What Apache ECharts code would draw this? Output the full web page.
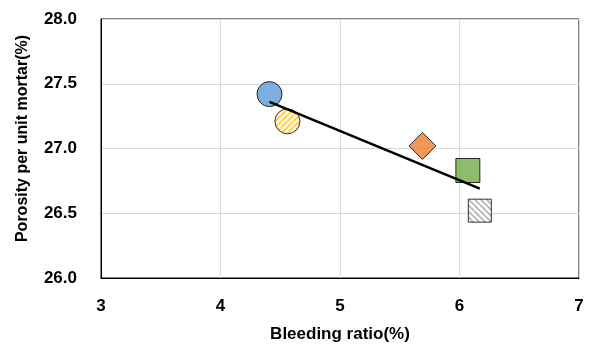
<!DOCTYPE html>
<html>
<head>
<meta charset="utf-8">
<script src="https://cdn.jsdelivr.net/npm/echarts@6/dist/echarts.min.js"></script>
<style>
  html, body { margin: 0; padding: 0; background: #fff; }
  #chart { width: 598px; height: 348px; }
</style>
</head>
<body>
<div id="chart"></div>
<script>
// data
let bleeding = [4.41, 4.56, 5.69, 6.07, 6.17];
let porosity = [27.42, 27.21, 27.02, 26.83, 26.52];
let trendX = [4.41, 6.17];
let trendY = [27.36, 26.69];
let xTicks = [3, 4, 5, 6, 7];
let yTicks = [26.0, 26.5, 27.0, 27.5, 28.0];

// hatched fill like the excel pattern. symbols are drawn at unit size
// and scaled, so the pattern is scaled back by 2/size
function stripes(fg, bg, dir, lw, size) {
    let n = 6;
    let c = document.createElement('canvas');
    c.width = n; c.height = n;
    let ctx = c.getContext('2d');
    ctx.fillStyle = bg;
    ctx.fillRect(0, 0, n, n);
    ctx.strokeStyle = fg;
    ctx.lineWidth = lw;
    ctx.beginPath();
    for (let k = -n; k <= n * 2; k += n) {
        if (dir > 0) {
            ctx.moveTo(k - n, n); ctx.lineTo(k, 0);
        } else {
            ctx.moveTo(k, 0); ctx.lineTo(k + n, n);
        }
    }
    ctx.stroke();
    let s = 2 / size;
    return { image: c, repeat: 'repeat', scaleX: s, scaleY: s };
}

let markers = [
    { symbol: 'circle', size: 25, color: '#5b9bd5' },
    { symbol: 'circle', size: 25, color: stripes('#ffc000', '#ffffff', 1, 2, 25) },
    { symbol: 'diamond', size: 27, color: '#ed7d31' },
    { symbol: 'rect', size: 24, color: '#70ad47' },
    { symbol: 'rect', size: 23, color: stripes('#6f6f6f', '#ffffff', -1, 1.2, 23) }
];

let font = '"Liberation Sans", Arial, sans-serif';

let pts = bleeding.map((x, i) => ({
    value: [x, porosity[i]],
    symbol: markers[i].symbol,
    symbolSize: markers[i].size,
    itemStyle: { color: markers[i].color, borderColor: '#000', borderWidth: 1 }
}));

let chart = echarts.init(document.getElementById('chart'), null, { renderer: 'canvas' });
let option = {
    animation: false,
    backgroundColor: '#fff',
    grid: {
        left: 101, right: 19, top: 19, bottom: 68,
        show: true, borderColor: '#000', borderWidth: 1
    },
    xAxis: {
        type: 'value',
        min: xTicks[0], max: xTicks[xTicks.length - 1], interval: 1,
        name: 'Bleeding ratio(%)',
        nameLocation: 'middle', nameGap: 48,
        nameTextStyle: { fontFamily: font, fontWeight: 'bold', fontSize: 17, color: '#000' },
        axisLine: { lineStyle: { color: '#000' } },
        axisTick: { show: false },
        axisLabel: { fontFamily: font, fontWeight: 'bold', fontSize: 17, color: '#000', margin: 20 },
        splitLine: { lineStyle: { color: '#d9d9d9' } }
    },
    yAxis: {
        type: 'value',
        min: yTicks[0], max: yTicks[yTicks.length - 1], interval: 0.5,
        name: 'Porosity per unit mortar(%)',
        nameLocation: 'middle', nameGap: 70,
        nameTextStyle: {
            fontFamily: font, fontWeight: 'bold', fontSize: 16, color: '#000',
            padding: [0, 0, 0, 20]
        },
        axisLine: { show: true, lineStyle: { color: '#000' } },
        axisTick: { show: false },
        axisLabel: {
            fontFamily: font, fontWeight: 'bold', fontSize: 17, color: '#000', margin: 24,
            formatter: v => v.toFixed(1)
        },
        splitLine: { lineStyle: { color: '#d9d9d9' } }
    },
    series: [
        {
            type: 'scatter',
            data: pts,
            emphasis: { disabled: true },
            z: 2
        },
        {
            type: 'line',
            data: trendX.map((x, i) => [x, trendY[i]]),
            symbol: 'none',
            lineStyle: { color: '#000', width: 2.5 },
            z: 3
        }
    ]
};
chart.setOption(option);
</script>
</body>
</html>
